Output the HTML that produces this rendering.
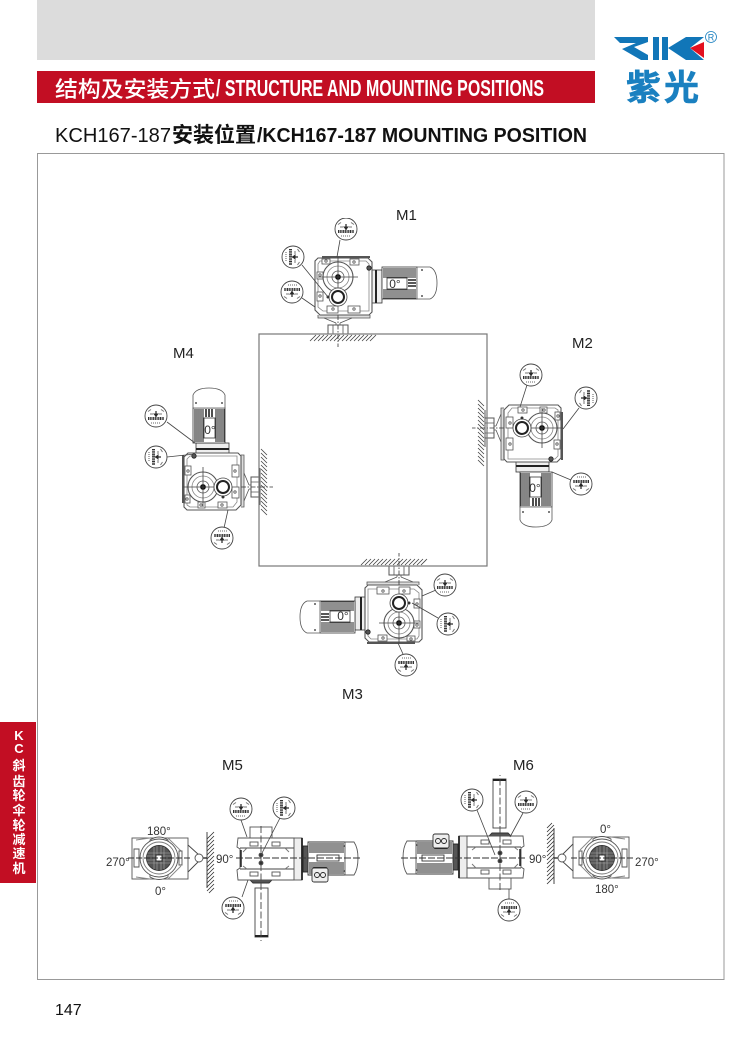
<!DOCTYPE html>
<html lang="zh">
<head>
<meta charset="utf-8">
<title>KCH167-187 Mounting Position</title>
<style>
html,body{margin:0;padding:0;background:#fff;width:750px;height:1052px;overflow:hidden}
svg{display:block}
text{font-family:"Liberation Sans","Noto Sans CJK SC",sans-serif}
.lab{font-size:15px;fill:#222}
.deg{font-size:11.5px;fill:#333}
.z{font-size:12px;fill:#333;text-anchor:middle}
.tab{font-size:13px;font-weight:700;fill:#fff;text-anchor:middle}
.lead{stroke:#444;stroke-width:.8;fill:none}
</style>
</head>
<body>
<svg width="750" height="1052" viewBox="0 0 750 1052" xmlns="http://www.w3.org/2000/svg">
<defs>
<filter id="soft" x="0" y="0" width="100%" height="100%"><feGaussianBlur stdDeviation="0.35"/></filter>
<g id="gauge">
  <circle r="11" fill="#fff" stroke="#444" stroke-width=".9"/>
  <path d="M-8 2.500H8" stroke="#333" stroke-width="3" stroke-dasharray="1.100 .6"/>
  <path d="M-3-2.500 0 1 3-2.500Z" fill="#333"/>
  <path d="M0-5V1" stroke="#222" stroke-width="1.200"/>
  <path d="M-8-4.500-5-6.500M8-4.500 5-6.500M-6-2H-3M3-2H6" stroke="#777" stroke-width="1"/>
  <path d="M-5 7H5" stroke="#999" stroke-width="1.600" stroke-dasharray="1 1"/>
</g>
<g id="gear" fill="none" stroke="#555" stroke-width=".8">
  <path d="M-28 64 -22 58M-24 64 -18 58M-20 64 -14 58M-16 64 -10 58M-12 64 -6 58M-8 64 -2 58M-4 64 2 58M0 64 6 58M4 64 10 58M8 64 14 58M12 64 18 58M16 64 22 58M20 64 26 58M24 64 30 58M28 64 34 58M32 64 38 58" stroke="#444" stroke-width=".8"/>
  <path d="M-20 38V41H32V38" fill="#ddd"/>
  <path d="M-14 41 -2 46M14 41 2 46M-2 46V48M2 46V48"/>
  <path d="M-10 57V48H10V57M-18 57H19" fill="#fff" stroke-width="1"/>
  <path d="M-5 48V57M5 48V57"/>
  <path d="M0 38V70" stroke="#333" stroke-dasharray="5 1.500 1.500 1.500"/>
  <rect x="34" y="-7" width="10" height="33" fill="#eee" stroke="#333"/>
  <path d="M38-7V26" stroke="#222" stroke-width="2"/>
  <rect x="44" y="-10" width="35" height="32" fill="#fff" stroke="#333"/>
  <path d="M45-8H78M45-6H78M45-4H78M45-2H78M45 0H78M45 13H78M45 15H78M45 17H78M45 19H78M45 21H78" stroke="#222" stroke-width="1.100"/>
  <rect x="49" y="1" width="20" height="11" fill="#fff" stroke="#333"/>
  <path d="M70 3H78M70 6H78M70 9H78" stroke="#222" stroke-width="1.600"/>
  <path d="M79-10H92Q99-7 99 6Q99 19 92 22H79Z" fill="#fff" stroke="#555"/>
  <circle cx="84" cy="-7" r=".9" fill="#222" stroke="none"/>
  <circle cx="84" cy="19" r=".9" fill="#222" stroke="none"/>
  <path d="M-20-19H30L34-15V35L31 38H-18L-23 33V-16Z" fill="#fff" stroke="#555" stroke-width="1.100"/>
  <path d="M-18-16H28L31-13V34H-15L-20 30V-13Z" stroke="#888"/>
  <path d="M-16-20H32" stroke="#555" stroke-width="2"/>
  <rect x="-16" y="-18" width="8" height="5" fill="#fff"/>
  <rect x="12" y="-18" width="9" height="6" fill="#fff"/>
  <rect x="-21" y="-5" width="6" height="7" fill="#fff"/>
  <rect x="-21" y="15" width="6" height="9" fill="#fff"/>
  <rect x="-11" y="29" width="11" height="7" fill="#fff"/>
  <rect x="10" y="29" width="12" height="7" fill="#fff"/>
  <circle cx="-12" cy="-16" r="1.200"/><circle cx="16" cy="-15" r="1.200"/>
  <circle cx="-18" cy="-2" r="1.200"/><circle cx="-18" cy="19" r="1.200"/>
  <circle cx="-5" cy="32" r="1.200"/><circle cx="16" cy="32" r="1.200"/>
  <circle r="15" fill="#fff" stroke="#555" stroke-width="1.100"/>
  <circle r="11" stroke="#888"/>
  <circle r="6" stroke="#555"/>
  <circle r="2.500" fill="#111" stroke="#111"/>
  <path d="M-20 0H20M0-20V15" stroke="#444"/>
  <circle cy="20" r="9" fill="#fff" stroke="#444"/>
  <circle cy="20" r="6" fill="#fff" stroke="#222" stroke-width="2"/>
  <circle cx="-10" cy="20" r="1.500" fill="#333" stroke="none"/>
  <circle cx="31" cy="-9" r="2.200" fill="#555" stroke="#222"/>
</g>
<g id="sides" fill="none" stroke="#555" stroke-width=".9">
  <!-- end view -->
  <rect x="132" y="838" width="56" height="41" fill="#fff"/>
  <path d="M136 840 150 838M136 877 150 879M168 838 181 851M168 879 181 866" stroke="#888"/>
  <path d="M188 845 199 855M188 872 199 861" stroke="#444"/>
  <path d="M199 858H207" stroke="#333" stroke-width="1.400"/>
  <circle cx="199" cy="858" r="4" fill="#fff"/>
  <path d="M207 839 214 832M207 843 214 836M207 847 214 840M207 851 214 844M207 855 214 848M207 859 214 852M207 863 214 856M207 867 214 860M207 871 214 864M207 875 214 868M207 879 214 872M207 883 214 876M207 887 214 880M207 891 214 884M209 893 214 888" stroke="#333" stroke-width=".8"/>
  <path d="M207 832V888" stroke="#333"/>
  <path d="M134 849H139V867H134ZM179 851H182V865H179Z" fill="#fff"/>
  <path d="M150 840Q159 834 168 840V846H150ZM150 877Q159 882 168 877V871H150Z" fill="#fff"/>
  <circle cx="159" cy="858" r="19" fill="#fff"/>
  <circle cx="159" cy="858" r="16" stroke="#777"/>
  <circle cx="159" cy="858" r="12.500" fill="#555" stroke="#333"/>
  <path d="M147 853H171M147 856H171M147 860H171M147 863H171M154 847V869M157 846V870M161 846V870M164 847V869" stroke="#aaa" stroke-width=".6"/>
  <rect x="156" y="855" width="6" height="6" fill="#fff" stroke="#222"/>
  <path d="M128 858H190" stroke="#333" stroke-dasharray="6 2"/>
  <!-- side view -->
  <rect x="250" y="827" width="22" height="11" fill="#fff"/>
  <rect x="255" y="888" width="13" height="49" fill="#fff" stroke="#444"/>
  <path d="M255 936H268" stroke="#222" stroke-width="2"/>
  <path d="M250 880 H272 L269 883 H253Z" fill="#555" stroke="#333"/>
  <path d="M238 838H294L300 841V876L294 880H238L237 870 240 868V849L237 847Z" fill="#fff"/>
  <path d="M240 848H294M240 869H294" stroke="#444"/>
  <path d="M243 852 247 848M243 866 247 869M289 852 285 848M289 866 285 869" stroke="#777"/>
  <path d="M241 850V867" stroke="#222" stroke-width="1.500"/>
  <rect x="250" y="842" width="8" height="4"/><rect x="272" y="842" width="8" height="4"/>
  <rect x="250" y="872" width="8" height="4"/><rect x="272" y="872" width="8" height="4"/>
  <rect x="294" y="838" width="8" height="42" fill="#eee"/>
  <path d="M302 838V880" stroke="#222" stroke-width="1.800"/>
  <rect x="303" y="846" width="5" height="26" fill="#555" stroke="#222"/>
  <path d="M308 842H345V875H308Z" fill="#fff" stroke="#333"/>
  <path d="M309 844H344M309 846H344M309 848H344M309 850H344M309 852H344M309 863H344M309 865H344M309 867H344M309 869H344M309 871H344M309 873H344" stroke="#222" stroke-width="1"/>
  <rect x="317" y="855" width="22" height="6" fill="#fff" stroke="#333"/>
  <rect x="312" y="868" width="16" height="14" rx="2" fill="#eee" stroke="#333"/>
  <circle cx="317" cy="875" r="2.500" stroke="#222"/><circle cx="323" cy="875" r="2.500" stroke="#222"/>
  <path d="M345 842H354Q358 848 358 858Q358 869 354 875H345Z" fill="#fff"/>
  <circle cx="344" cy="846" r=".8" fill="#222" stroke="none"/><circle cx="344" cy="871" r=".8" fill="#222" stroke="none"/>
  <path d="M236 858H361" stroke="#333" stroke-dasharray="7 2"/>
  <path d="M261 826V941" stroke="#444" stroke-dasharray="7 2.500"/>
  <circle cx="261" cy="855" r="2" fill="#333"/><circle cx="261" cy="863" r="2" fill="#333"/>
</g>
</defs>

<rect width="750" height="1052" fill="#fff"/>
<rect x="37" y="0" width="558" height="60" fill="#dcdcdc"/>
<rect x="37" y="71" width="558" height="32" fill="#c20e23"/>
<text x="55" y="97" font-size="22" fill="#fff" textLength="160" lengthAdjust="spacingAndGlyphs" style="font-weight:500">结构及安装方式</text>
<text x="216" y="96" font-size="23" font-weight="700" fill="#fff" textLength="328" lengthAdjust="spacingAndGlyphs">/ STRUCTURE AND MOUNTING POSITIONS</text>

<!-- logo -->
<path d="M614 37H648V42L634 47 648 55V60H641L622 49 636 43H620Z" fill="#1176b8"/>
<rect x="653" y="37" width="6" height="23" fill="#1176b8"/>
<rect x="662" y="37" width="6" height="23" fill="#1176b8"/>
<path d="M668 48 686 37H704L690 48 704 60H686Z" fill="#1176b8"/>
<path d="M704 42V58L690 48Z" fill="#e3101f"/>
<circle cx="711" cy="37" r="5.500" fill="#fff" stroke="#1a80c0" stroke-width=".8"/>
<text x="711" y="40.500" font-size="9" fill="#1a80c0" text-anchor="middle">R</text>
<text x="626" y="100" font-size="35" font-weight="700" fill="#1a80c0" stroke="#1a80c0" stroke-width=".6" style='font-family:"Noto Sans CJK SC",sans-serif'>紫</text>
<text x="664" y="100" font-size="35" font-weight="700" fill="#1a80c0" stroke="#1a80c0" stroke-width=".6" style='font-family:"Noto Sans CJK SC",sans-serif'>光</text>

<!-- subtitle -->
<text x="55" y="142" font-size="20" fill="#111" textLength="116" lengthAdjust="spacingAndGlyphs">KCH167-187</text>
<text x="172" y="142" font-size="21" font-weight="700" fill="#111" textLength="84" lengthAdjust="spacingAndGlyphs">安装位置</text>
<text x="257" y="142" font-size="20" font-weight="700" fill="#111" textLength="330" lengthAdjust="spacingAndGlyphs">/KCH167-187 MOUNTING POSITION</text>

<!-- frames -->
<rect x="37.500" y="153.500" width="686.500" height="826" fill="none" stroke="#999" stroke-width="1"/>

<!-- side tab -->
<rect x="0" y="722" width="36" height="161" fill="#c20e23"/>
<text class="tab" x="19" y="740">K</text>
<text class="tab" x="19" y="753">C</text>
<text class="tab" x="19" y="770">斜</text>
<text class="tab" x="19" y="786">齿</text>
<text class="tab" x="19" y="800">轮</text>
<text class="tab" x="19" y="815">伞</text>
<text class="tab" x="19" y="830">轮</text>
<text class="tab" x="19" y="844">减</text>
<text class="tab" x="19" y="858">速</text>
<text class="tab" x="19" y="873">机</text>

<g filter="url(#soft)">
<!-- gear units -->
<use href="#gear" transform="translate(338 277)"/>
<use href="#gear" transform="translate(542 428) rotate(90)"/>
<use href="#gear" transform="translate(399 623) rotate(180)"/>
<use href="#gear" transform="translate(203 487) rotate(-90)"/>

<rect x="259" y="334" width="228" height="232" fill="none" stroke="#777" stroke-width="1.200"/>

<text class="z" x="395" y="288">0°</text>
<text class="z" x="535" y="492">0°</text>
<text class="z" x="343" y="620">0°</text>
<text class="z" x="210" y="434">0°</text>

<!-- leaders -->
<path class="lead" d="M340 240 337 257M302 265 328 297M302 298 315 307"/>
<path class="lead" d="M527 385 520 407M579 408 563 429M571 480 552 472"/>
<path class="lead" d="M436 590 422 596M438 618 412 603M403 654 398 643"/>
<path class="lead" d="M167 422 195 443M167 457 195 454M224 528 228 510"/>

<!-- gauges -->
<use href="#gauge" transform="translate(346 229)"/>
<use href="#gauge" transform="translate(293 257) rotate(90)"/>
<use href="#gauge" transform="translate(292 292) rotate(180)"/>
<use href="#gauge" transform="translate(531 375)"/>
<use href="#gauge" transform="translate(586 398) rotate(-90)"/>
<use href="#gauge" transform="translate(581 484) rotate(180)"/>
<use href="#gauge" transform="translate(445 585)"/>
<use href="#gauge" transform="translate(448 624) rotate(90)"/>
<use href="#gauge" transform="translate(406 665) rotate(180)"/>
<use href="#gauge" transform="translate(156 416)"/>
<use href="#gauge" transform="translate(156 457) rotate(90)"/>
<use href="#gauge" transform="translate(222 538) rotate(180)"/>

<!-- M5 / M6 -->
<use href="#sides"/>
<use href="#sides" transform="rotate(180 380.500 858)"/>

<path class="lead" d="M241 820 247 837M280 818 261 855M242 897 248 880"/>
<path class="lead" d="M477 810 495 855M523 813 510 837M509 889 509 899"/>
<use href="#gauge" transform="translate(241 809)"/>
<use href="#gauge" transform="translate(284 808) rotate(90)"/>
<use href="#gauge" transform="translate(233 908) rotate(180)"/>
<use href="#gauge" transform="translate(472 800) rotate(90)"/>
<use href="#gauge" transform="translate(526 802)"/>
<use href="#gauge" transform="translate(509 910) rotate(180)"/>
</g>

<!-- labels -->
<text class="lab" x="396" y="220">M1</text>
<text class="lab" x="572" y="348">M2</text>
<text class="lab" x="342" y="699">M3</text>
<text class="lab" x="173" y="358">M4</text>
<text class="lab" x="222" y="770">M5</text>
<text class="lab" x="513" y="770">M6</text>

<text class="deg" x="147" y="835">180°</text>
<text class="deg" x="155" y="895">0°</text>
<text class="deg" x="106" y="866">270°</text>
<text class="deg" x="216" y="863">90°</text>
<text class="deg" x="600" y="833">0°</text>
<text class="deg" x="595" y="893">180°</text>
<text class="deg" x="635" y="866">270°</text>
<text class="deg" x="529" y="863">90°</text>

<text x="55" y="1015" font-size="16" fill="#111">147</text>
</svg>
</body>
</html>
